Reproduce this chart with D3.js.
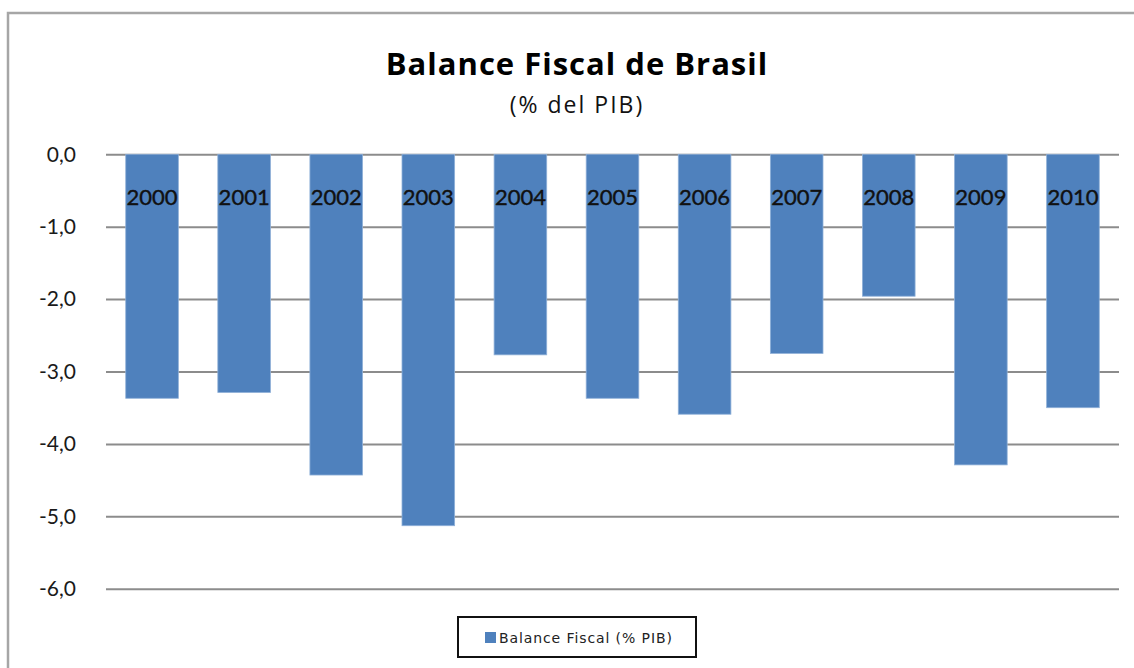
<!DOCTYPE html>
<html>
<head>
<meta charset="utf-8">
<script src="https://cdn.jsdelivr.net/npm/d3@7"></script>
<style>
  body { margin: 0; background: #fff; }
  svg { display: block; }
</style>
</head>
<body>
<div id="chart"></div>
<script>
// Data
const years = ["2000", "2001", "2002", "2003", "2004", "2005", "2006", "2007", "2008", "2009", "2010"];
const balance = [-3.37, -3.29, -4.43, -5.13, -2.77, -3.37, -3.59, -2.75, -1.96, -4.29, -3.5];
const yTicks = [0, -1, -2, -3, -4, -5, -6];
const chartTitle = "Balance Fiscal de Brasil";
const chartSubtitle = "(% del PIB)";
const legendLabel = "Balance Fiscal (% PIB)";

//Chart Variables and Constants
const width = 1134;
const height = 668;
const plot = { left: 106, right: 1119, top: 154.3, bottom: 588.7 };
const barColor = "#4F81BD";
const font = "Lato, 'Open Sans', sans-serif";

const svg = d3
  .select("#chart")
  .append("svg")
  .attr("width", width)
  .attr("height", height);

//Outer chart border (runs off the right and bottom edges)
svg
  .append("rect")
  .attr("x", 8)
  .attr("y", 13)
  .attr("width", width + 20)
  .attr("height", height + 20)
  .attr("fill", "#fff")
  .attr("stroke", "#a6a6a6")
  .attr("stroke-width", 2.5);

//Title
svg
  .append("text")
  .attr("x", 577)
  .attr("y", 75)
  .attr("text-anchor", "middle")
  .attr("font-family", "'Open Sans', sans-serif")
  .attr("font-size", "31px")
  .attr("font-weight", "bold")
  .attr("letter-spacing", "1px")
  .attr("fill", "#000")
  .text(chartTitle);

svg
  .append("text")
  .attr("x", 577)
  .attr("y", 113)
  .attr("text-anchor", "middle")
  .attr("font-family", "'Open Sans', sans-serif")
  .attr("font-size", "23px")
  .attr("letter-spacing", "2px")
  .attr("fill", "#111")
  .text(chartSubtitle);

//Scales
const x = d3
  .scaleBand()
  .domain(years)
  .range([plot.left, plot.right])
  .paddingInner(0.4286)
  .paddingOuter(0.2143);

const y = d3
  .scaleLinear()
  .domain([0, -6])
  .range([plot.top, plot.bottom]);

//Gridlines + value axis
const yAxis = svg
  .append("g")
  .attr("transform", `translate(${plot.left}, 0)`)
  .call(
    d3
      .axisLeft(y)
      .tickValues(yTicks)
      .tickSize(-(plot.right - plot.left))
      .tickPadding(30)
      .tickFormat((d) => d.toFixed(1).replace(".", ","))
  );

yAxis.select(".domain").remove();
yAxis
  .selectAll(".tick line")
  .attr("stroke", "#8c8c8c")
  .attr("stroke-width", 2);
yAxis
  .selectAll(".tick text")
  .attr("font-family", font)
  .attr("font-size", "21px")
  .attr("fill", "#1a1a1a");

//Bars
svg
  .append("g")
  .selectAll("rect")
  .data(years.map((yr, i) => ({ year: yr, value: balance[i] })))
  .enter()
  .append("rect")
  .attr("x", (d) => x(d.year))
  .attr("y", (d) => y(Math.max(0, d.value)))
  .attr("width", x.bandwidth())
  .attr("height", (d) => Math.abs(y(d.value) - y(0)))
  .attr("fill", barColor)
  .attr("stroke", "#8fb0d8")
  .attr("stroke-width", 0.8);

//Category axis at zero
const xAxis = svg
  .append("g")
  .attr("transform", `translate(0, ${y(0)})`)
  .call(d3.axisBottom(x).tickSize(0).tickPadding(35));

xAxis.select(".domain").remove();
xAxis
  .selectAll(".tick text")
  .attr("font-family", font)
  .attr("font-size", "22px")
  .attr("fill", "#111")
  .attr("stroke", "#111")
  .attr("stroke-width", 0.4);

//Legend
const legend = svg.append("g").attr("transform", "translate(458, 617)");

legend
  .append("rect")
  .attr("width", 238)
  .attr("height", 40)
  .attr("fill", "#fff")
  .attr("stroke", "#111")
  .attr("stroke-width", 2);

legend
  .append("rect")
  .attr("x", 27)
  .attr("y", 15)
  .attr("width", 11)
  .attr("height", 11)
  .attr("fill", barColor);

legend
  .append("text")
  .attr("x", 41)
  .attr("y", 26)
  .attr("font-family", "'DejaVu Sans', Verdana, sans-serif")
  .attr("font-size", "14px")
  .attr("letter-spacing", "0.9px")
  .attr("fill", "#222")
  .text(legendLabel);
</script>
</body>
</html>
